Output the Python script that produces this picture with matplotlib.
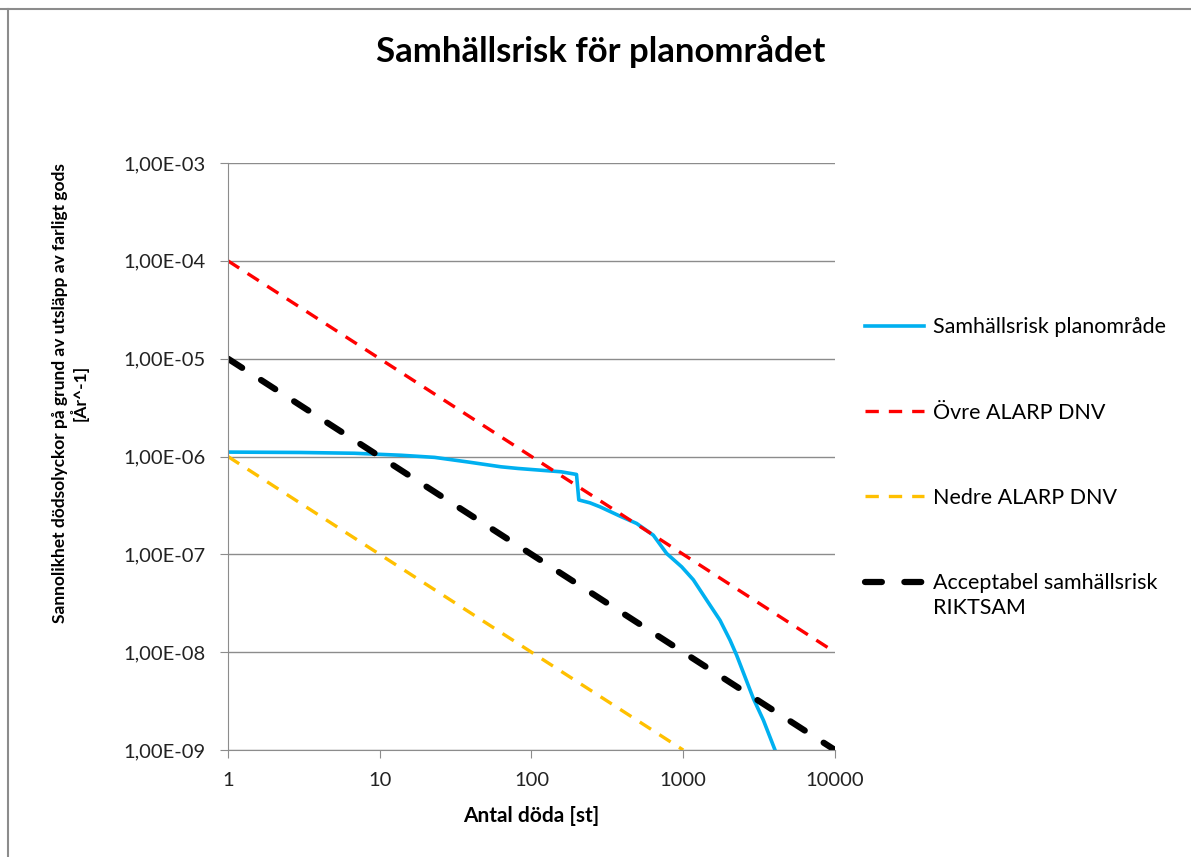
import matplotlib
matplotlib.use("Agg")
import matplotlib.pyplot as plt
from matplotlib.lines import Line2D
from matplotlib.ticker import FixedLocator, FuncFormatter, NullLocator

plt.rcParams['font.family'] = ['Lato', 'DejaVu Sans']

# values
antal_risk = [1, 3, 6.8, 13.9, 23, 38, 63, 81.5, 157, 198, 205, 243, 283, 383,
              493, 635, 778, 977, 1165, 1428, 1747, 2033, 2249, 2553, 2897,
              3373, 4025]
frekv_risk = [1.11e-6, 1.10e-6, 1.08e-6, 1.03e-6, 9.8e-7, 8.8e-7, 7.85e-7,
              7.55e-7, 6.98e-7, 6.56e-7, 3.6e-7, 3.36e-7, 3.06e-7, 2.46e-7,
              2.07e-7, 1.57e-7, 1.02e-7, 7.45e-8, 5.5e-8, 3.4e-8, 2.12e-8,
              1.33e-8, 9.3e-9, 5.59e-9, 3.36e-9, 2.02e-9, 1.0e-9]

antal_ovre = [1, 10000]
frekv_ovre = [1e-4, 1e-8]

antal_nedre = [1, 1000]
frekv_nedre = [1e-6, 1e-9]

antal_acc = [1, 10000]
frekv_acc = [1e-5, 1e-9]

x_ticks = [1, 10, 100, 1000, 10000]
y_ticks = [1e-9, 1e-8, 1e-7, 1e-6, 1e-5, 1e-4, 1e-3]

labels = ['Samhällsrisk planområde', 'Övre ALARP DNV', 'Nedre ALARP DNV',
          'Acceptabel samhällsrisk']
label_extra = 'RIKTSAM'

fig = plt.figure(figsize=(11.91, 8.57), dpi=100)
ax = fig.add_axes([0.1914, 0.1248, 0.5097, 0.685])

l1, = ax.plot(antal_risk, frekv_risk, color='#00B0F0', lw=2.6, solid_joinstyle='round')
l2, = ax.plot(antal_ovre, frekv_ovre, color='#FF0000', lw=2.4, dashes=(4, 3))
l3, = ax.plot(antal_nedre, frekv_nedre, color='#FFC000', lw=2.4, dashes=(4, 3))
l4, = ax.plot(antal_acc, frekv_acc, color='black', lw=4.5, dashes=(2.7, 3.6),
              dash_capstyle='round')

ax.set_xscale('log')
ax.set_yscale('log')
ax.set_xlim(1, 10000)
ax.set_ylim(1e-9, 1e-3)

ax.xaxis.set_major_locator(FixedLocator(x_ticks))
ax.xaxis.set_minor_locator(NullLocator())
ax.yaxis.set_major_locator(FixedLocator(y_ticks))
ax.yaxis.set_minor_locator(NullLocator())
ax.xaxis.set_major_formatter(FuncFormatter(lambda v, p: f"{v:.0f}"))
ax.yaxis.set_major_formatter(FuncFormatter(lambda v, p: f"{v:.2E}".replace('.', ',')))

ax.yaxis.grid(True, color='#8c8c8c', lw=1)
ax.set_axisbelow(True)
for s in ['top', 'right']:
    ax.spines[s].set_visible(False)
for s in ['left', 'bottom']:
    ax.spines[s].set_color('#8c8c8c')
ax.tick_params(axis='both', direction='out', length=6, color='#8c8c8c',
               labelsize=14.5, labelcolor='#222222', pad=10)

fig.text(601 / 1191, 1 - 52 / 857, 'Samhällsrisk för planområdet',
         ha='center', va='center', fontsize=25, fontweight='bold')
fig.text(531 / 1191, 1 - 816 / 857, 'Antal döda [st]',
         ha='center', va='center', fontsize=15, fontweight='bold')
fig.text(70 / 1191, 1 - 393 / 857,
         'Sannolikhet dödsolyckor på grund av utsläpp av farligt gods\n[År^-1]',
         ha='center', va='center', rotation=90, multialignment='center',
         fontsize=12.5, fontweight='bold', linespacing=1.1)

leg = fig.legend([l1, l2, l3, l4], labels, loc='upper left',
                 bbox_to_anchor=(846 / 1191, 1 - 298 / 857), frameon=False,
                 fontsize=15.5, handlelength=2.7, handletextpad=0.45,
                 labelspacing=3.03)

# second line of the last legend entry, placed under its first line
fig.canvas.draw()
bb = leg.get_texts()[-1].get_window_extent().transformed(fig.transFigure.inverted())
fig.text(bb.x0, bb.y0 - 0.006, label_extra, ha='left', va='top', fontsize=15.5)

# outer frame of the chart area
fig.add_artist(Line2D([0, 1], [1 - 9 / 857, 1 - 9 / 857], color='#8c8c8c', lw=1.5))
fig.add_artist(Line2D([8 / 1191, 8 / 1191], [0, 1 - 9 / 857], color='#8c8c8c', lw=1.5))

fig.savefig('out.png', dpi=100)
